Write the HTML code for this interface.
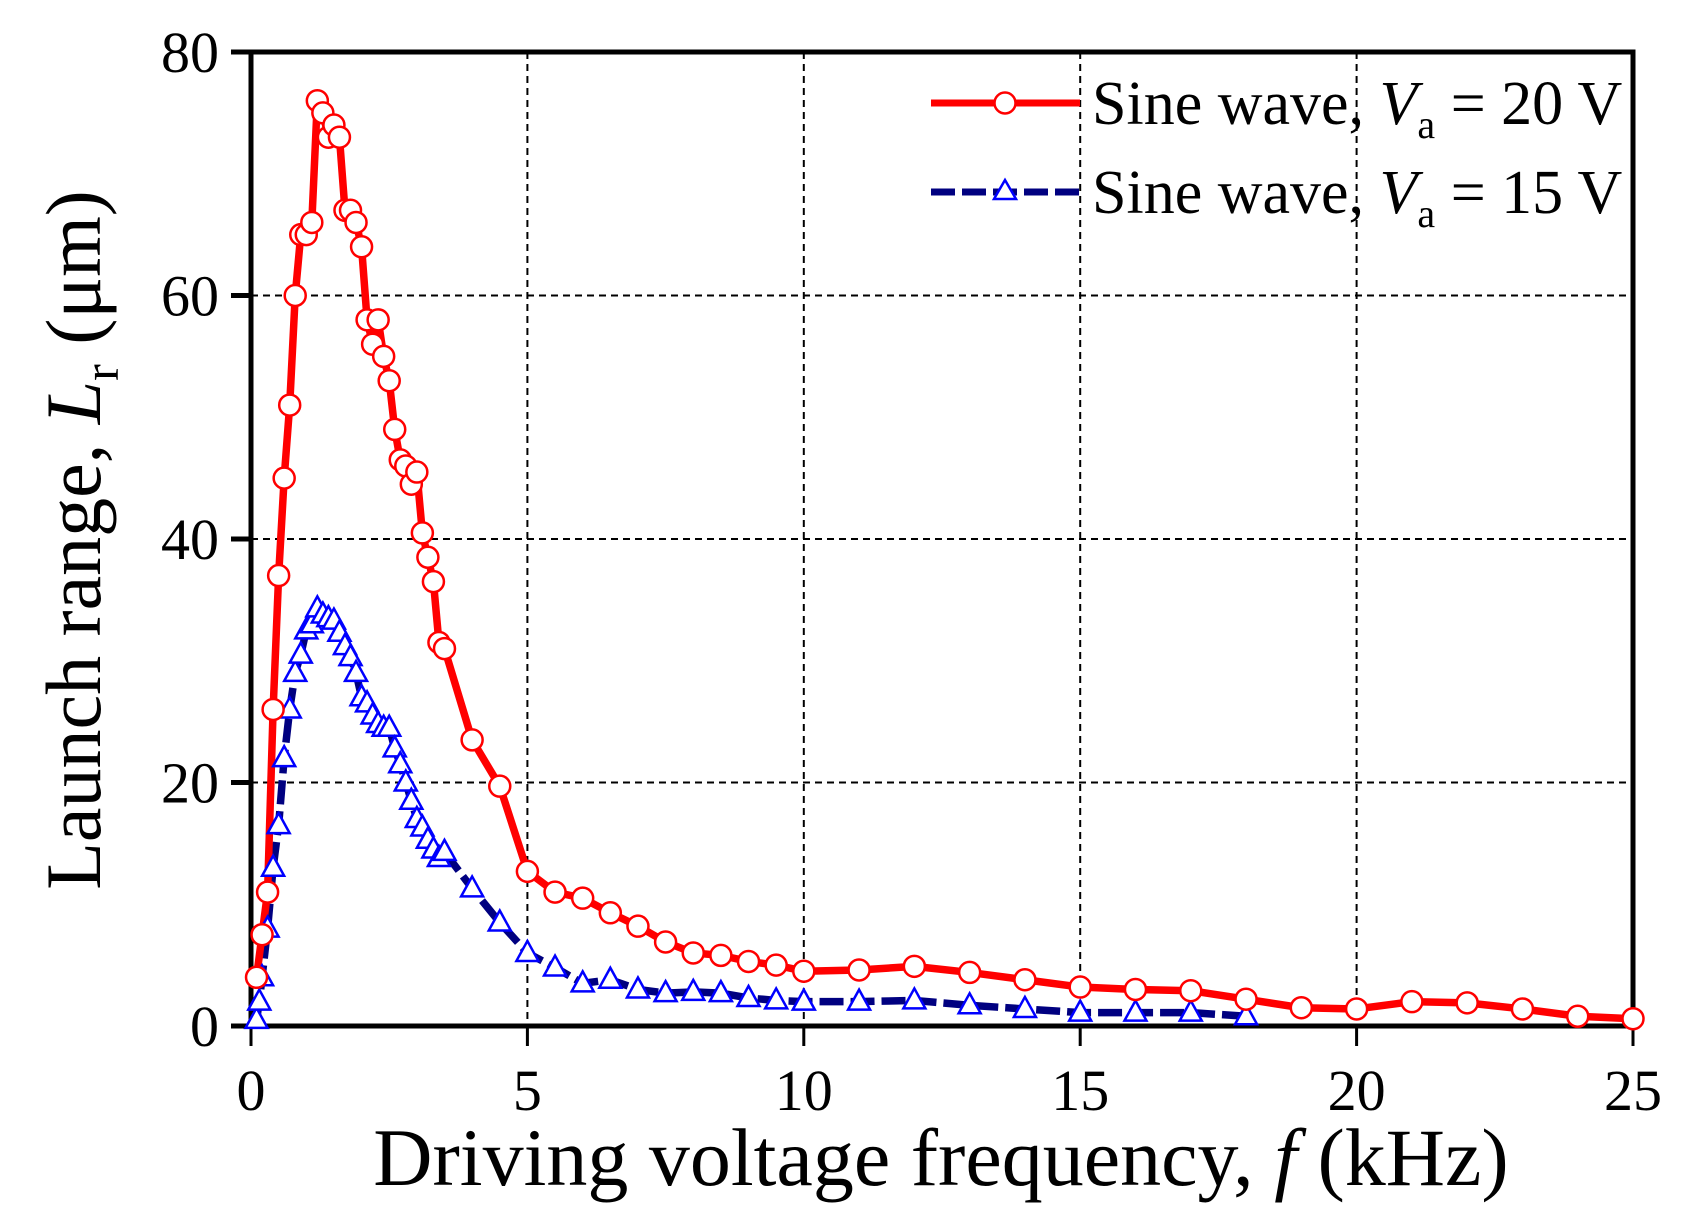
<!DOCTYPE html>
<html><head><meta charset="utf-8"><style>
html,body{margin:0;padding:0;background:#fff}
svg{display:block}
text{font-family:"Liberation Serif",serif;fill:#000}
</style></head><body>
<svg width="1685" height="1221" viewBox="0 0 1685 1221">
<g id="grid"></g>
<g id="axes"></g>
<g id="series"></g>
<g>
  <g>
    <line x1="931" y1="103" x2="1080" y2="103" stroke="#ff0000" stroke-width="7"/>
    <circle cx="1005" cy="103" r="10.5" fill="#fff" stroke="#ff0000" stroke-width="2.5"/>
    <text x="1092" y="124" font-size="62">Sine wave, <tspan font-style="italic">V</tspan><tspan font-size="40" dy="14">a</tspan><tspan dy="-14"> = 20 V</tspan></text>
  </g>
  <g>
    <line x1="931" y1="192" x2="1080" y2="192" stroke="#000080" stroke-width="7" stroke-dasharray="24,7"/>
    <path d="M1005,180 L1016,199 L994,199 Z" fill="#fff" stroke="#0000ff" stroke-width="2.5"/>
    <text x="1092" y="213" font-size="62">Sine wave, <tspan font-style="italic">V</tspan><tspan font-size="40" dy="14">a</tspan><tspan dy="-14"> = 15 V</tspan></text>
  </g>
</g>
<text x="941" y="1185" font-size="82" text-anchor="middle">Driving voltage frequency, <tspan font-style="italic">f</tspan>  (kHz)</text>
<text transform="translate(100,540) rotate(-90)" font-size="78" text-anchor="middle">Launch range, <tspan font-style="italic">L</tspan><tspan font-size="50" dy="18">r</tspan><tspan dy="-18"> (μm)</tspan></text>
</svg>
<script>
const xTicks=[0,5,10,15,20,25];
const yTicks=[0,20,40,60,80];
const redX=[0.1,0.2,0.3,0.4,0.5,0.6,0.7,0.8,0.9,1.0,1.1,1.2,1.3,1.4,1.5,1.6,1.7,1.8,1.9,2.0,2.1,2.2,2.3,2.4,2.5,2.6,2.7,2.8,2.9,3.0,3.1,3.2,3.3,3.4,3.5,4,4.5,5,5.5,6,6.5,7,7.5,8,8.5,9,9.5,10,11,12,13,14,15,16,17,18,19,20,21,22,23,24,25];
const redY=[4,7.5,11,26,37,45,51,60,65,65,66,76,75,73,74,73,67,67,66,64,58,56,58,55,53,49,46.5,46,44.5,45.5,40.5,38.5,36.5,31.5,31,23.5,19.7,12.7,11,10.5,9.3,8.2,6.9,6,5.8,5.3,5,4.5,4.6,4.9,4.4,3.8,3.2,3,2.9,2.2,1.5,1.4,2,1.9,1.4,0.8,0.6];
const blueX=[0.1,0.15,0.2,0.3,0.4,0.5,0.6,0.7,0.8,0.9,1.0,1.1,1.2,1.3,1.4,1.5,1.6,1.7,1.8,1.9,2.0,2.1,2.2,2.3,2.4,2.5,2.6,2.7,2.8,2.9,3.0,3.1,3.2,3.3,3.4,3.5,4,4.5,5,5.5,6,6.5,7,7.5,8,8.5,9,9.5,10,11,12,13,14,15,16,17,18];
const blueY=[0.5,2,4,8,13,16.5,22,26,29,30.5,32.5,33,34.3,33.8,33.5,33.3,32.3,31.2,30.3,29,27,26.5,25.5,24.8,24.5,24.5,22.8,21.5,20,18.5,17,16.3,15.3,14.5,13.8,14.3,11.3,8.5,6,4.8,3.5,3.8,3,2.7,2.8,2.7,2.3,2.1,2,2,2.1,1.7,1.4,1.1,1.1,1.1,0.8];

const L=251,R=1633,T=52,B=1026;
const sx=v=>L+(v-0)/(25-0)*(R-L);
const sy=v=>B-(v-0)/(80-0)*(B-T);
const NS='http://www.w3.org/2000/svg';
function mk(tag,attrs,parent){const e=document.createElementNS(NS,tag);for(const k in attrs)e.setAttribute(k,attrs[k]);parent.appendChild(e);return e;}
const grid=document.getElementById('grid'),axes=document.getElementById('axes'),series=document.getElementById('series');
xTicks.forEach(t=>{
  if(t>0&&t<25){const g=mk('line',{x1:sx(t),y1:T,x2:sx(t),y2:B,stroke:'#000','stroke-width':2,'stroke-dasharray':'7,5'},grid);
  
  }
  const tk=mk('line',{x1:sx(t),y1:B,x2:sx(t),y2:B+20,stroke:'#000','stroke-width':3},axes);
  
  
  const tx=mk('text',{x:sx(t),y:B+84,'font-size':58,'text-anchor':'middle'},axes);tx.textContent=t;
  
  
});
yTicks.forEach(t=>{
  if(t>0&&t<80){const g=mk('line',{x1:L,y1:sy(t),x2:R,y2:sy(t),stroke:'#000','stroke-width':2,'stroke-dasharray':'7,5'},grid);
  
  }
  const tk=mk('line',{x1:L-20,y1:sy(t),x2:L,y2:sy(t),stroke:'#000','stroke-width':5},axes);
  
  
  const tx=mk('text',{x:L-32,y:sy(t)+20,'font-size':58,'text-anchor':'end'},axes);tx.textContent=t;
  
  
});
const fr=mk('rect',{x:L,y:T,width:R-L,height:B-T,fill:'none',stroke:'#000','stroke-width':5},axes);



function line(xs,ys,color,dash,name){
  const p=mk('polyline',{points:xs.map((x,i)=>sx(x)+','+sy(ys[i])).join(' '),fill:'none',stroke:color,'stroke-width':7.5,'stroke-linejoin':'round'},series);
  if(dash)p.setAttribute('stroke-dasharray',dash);
  
  
}
line(blueX,blueY,'#000080','24,7','line-15v');
line(redX,redY,'#ff0000',null,'line-20v');
blueX.forEach((x,i)=>{const cx=sx(x),cy=sy(blueY[i]);
  const m=mk('path',{d:`M${cx},${cy-12} L${cx+11},${cy+8} L${cx-11},${cy+8} Z`,fill:'#fff',stroke:'#0000ff','stroke-width':2.5},series);
  
  });
redX.forEach((x,i)=>{
  const m=mk('circle',{cx:sx(x),cy:sy(redY[i]),r:10.5,fill:'#fff',stroke:'#ff0000','stroke-width':2.5},series);
  
  });
</script>
</body></html>
